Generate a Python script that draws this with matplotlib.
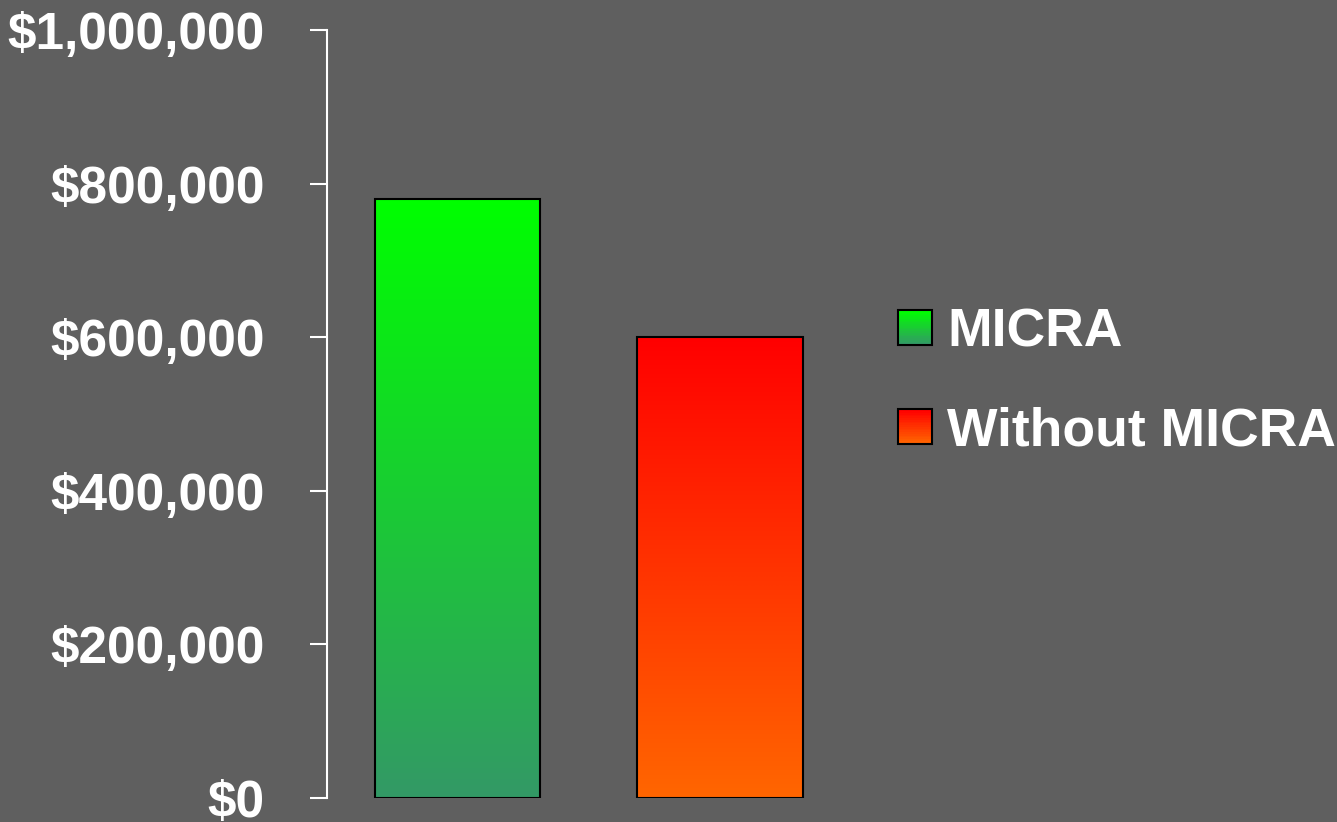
import numpy as np
import matplotlib
matplotlib.use("Agg")
import matplotlib.pyplot as plt
from matplotlib.patches import Rectangle
from matplotlib.colors import LinearSegmentedColormap
from matplotlib.legend_handler import HandlerBase

categories = ["MICRA", "Without MICRA"]
values = [780000, 600000]
yticks = [0, 200000, 400000, 600000, 800000, 1000000]
ytick_labels = ["$0", "$200,000", "$400,000", "$600,000", "$800,000", "$1,000,000"]
# gradient colours (top, bottom)
grads = [("#00ff00", "#339966"), ("#ff0000", "#ff6600")]

BG = "#5f5f5f"
plt.rcParams["font.family"] = ["Liberation Sans", "DejaVu Sans"]
plt.rcParams["font.weight"] = "bold"

fig = plt.figure(figsize=(13.37, 8.22), dpi=100, facecolor=BG)
ax = fig.add_axes([327 / 1337, 1 - 798 / 822, (860 - 327) / 1337, (798 - 30) / 822])
ax.set_facecolor(BG)

x = np.arange(len(categories))
width = 0.63
bars = ax.bar(x, values, width=width, facecolor="none", edgecolor="black", linewidth=1.5, zorder=3)

grad = np.linspace(0, 1, 256).reshape(-1, 1)
for bar, (top, bottom) in zip(bars, grads):
    cmap = LinearSegmentedColormap.from_list("g", [top, bottom])
    x0, y0 = bar.get_x(), bar.get_y()
    im = ax.imshow(grad, cmap=cmap, aspect="auto", zorder=2, origin="upper",
                   extent=[x0, x0 + bar.get_width(), y0, y0 + bar.get_height()])
    im.set_clip_path(bar)

ax.set_xlim(-0.497, 1.533)
ax.set_ylim(0, 1000000)
ax.set_yticks(yticks)
ax.set_yticklabels(ytick_labels)
ax.set_xticks([])
for s in ["top", "right", "bottom"]:
    ax.spines[s].set_visible(False)
ax.spines["left"].set_color("white")
ax.spines["left"].set_linewidth(1.5)
ax.tick_params(axis="y", colors="white", labelsize=37, length=12, width=1.5, pad=33)
for lab in ax.get_yticklabels():
    lab.set_fontweight("bold")


class GradHandler(HandlerBase):
    def __init__(self, top, bottom):
        super().__init__()
        self.cmap = LinearSegmentedColormap.from_list("h", [top, bottom])

    def create_artists(self, legend, orig_handle, xdescent, ydescent, width, height, fontsize, trans):
        arts = []
        n = 20
        for i in range(n):
            c = self.cmap(i / (n - 1))
            r = Rectangle((-xdescent, -ydescent + height * (n - 1 - i) / n), width, height / n,
                          facecolor=c, edgecolor="none", transform=trans)
            arts.append(r)
        arts.append(Rectangle((-xdescent, -ydescent), width, height, facecolor="none",
                              edgecolor="black", linewidth=1.5, transform=trans))
        return arts


handles = [Rectangle((0, 0), 1, 1) for _ in categories]
leg = fig.legend(handles, categories, loc="center left", bbox_to_anchor=(898 / 1337, 1 - 382 / 822),
                 frameon=False, fontsize=38.5, handlelength=0.63, handleheight=0.63,
                 handletextpad=0.29, labelspacing=0.92, borderpad=0, borderaxespad=0,
                 handler_map={h: GradHandler(*g) for h, g in zip(handles, grads)})
for t in leg.get_texts():
    t.set_color("white")
    t.set_fontweight("bold")

fig.savefig("out.png", dpi=100, facecolor=BG)
